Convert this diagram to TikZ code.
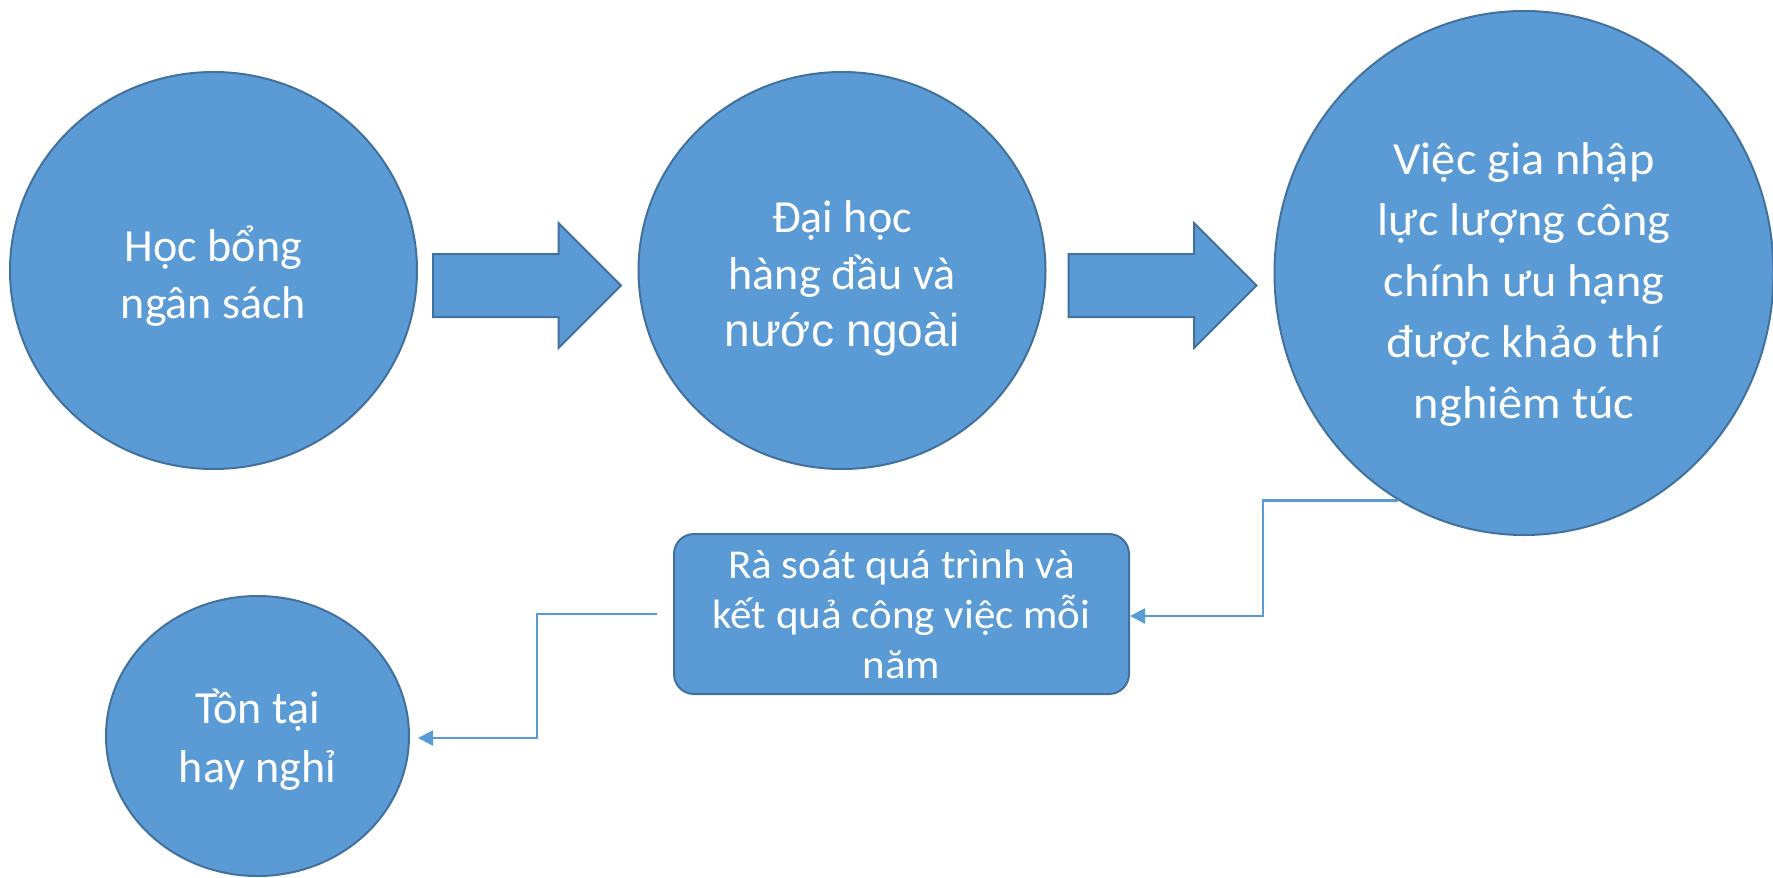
\documentclass[tikz,border=0pt]{standalone}
\usepackage{fontspec}
\setmainfont{Carlito}
\newfontfamily\widefont{Carlito}[FakeStretch=1.05]
\newfontfamily\arialfont{Liberation Sans}
\usetikzlibrary{shapes.geometric,shapes.arrows,arrows.meta,positioning}
\definecolor{boxblue}{HTML}{5B9BD5}
\definecolor{edgeblue}{HTML}{41719C}

\tikzset{
  bubble/.style={ellipse, draw=edgeblue, fill=boxblue, line width=2pt, inner sep=0pt},
  bubbletext/.style={text=white, align=center, inner sep=0pt, font=\fontsize{46}{57}\selectfont},
  bigarrow/.style={single arrow, draw=edgeblue, fill=boxblue, line width=2pt,
    minimum height=188pt, inner xsep=0pt, inner ysep=30.5pt, single arrow head extend=31pt},
  reviewbox/.style={rectangle, rounded corners=20pt, draw=edgeblue, fill=boxblue,
    line width=2pt, text=white, align=center, minimum width=455pt, minimum height=160pt,
    font=\widefont\fontsize{41}{50}\selectfont},
  link/.style={draw=boxblue, line width=2.5pt, -{Triangle[length=15pt,width=15pt]}}
}

\begin{document}
\begin{tikzpicture}[x=1pt,y=-1pt]
\useasboundingbox (0,0) rectangle (1773,878);

\node[bubble, minimum width=407pt, minimum height=397pt] (c1) at (213.5,270.5) {};
\node[bubbletext] (t1) at ([yshift=-6pt]c1.center) {Học bổng\\ngân sách};

\node[bubble, minimum width=407pt, minimum height=397pt] (c2) at (842,270.5) {};
\node[bubbletext] (t2) at ([yshift=-8pt]c2.center) {Đại học\\hàng đầu và\\{\arialfont nước ngoài}};

\node[bubble, minimum width=499pt, minimum height=524pt] (c3) at (1524,273) {};
\node[bubbletext, font=\widefont\fontsize{46}{61}\selectfont] (t3) at ([yshift=-11pt]c3.center)
  {Việc gia nhập\\lực lượng công\\chính ưu hạng\\được khảo thí\\nghiêm túc};

\node[bigarrow, right=14pt of c1, yshift=-15pt] (a1) {};
\node[bigarrow, right=21pt of c2, yshift=-15pt] (a2) {};

\node[reviewbox] (box) at (901.5,614) {Rà soát quá trình và\\kết quả công việc mỗi\\năm};

\node[bubble, minimum width=303pt, minimum height=280pt] (c4) at (257.5,736) {};
\node[bubbletext, font=\fontsize{46}{59}\selectfont] (t4) at ([yshift=-4pt]c4.center) {Tồn tại\\hay nghỉ};

\coordinate (boxout) at ([xshift=-16pt]box.west);

\draw[link] (c3.241) -- ++(-135,0) |- ([yshift=-2pt]box.east);
\draw[link, shorten >=8pt] (boxout) -- ++(-120,0) |- ([yshift=-2pt]c4.east);

\end{tikzpicture}
\end{document}
